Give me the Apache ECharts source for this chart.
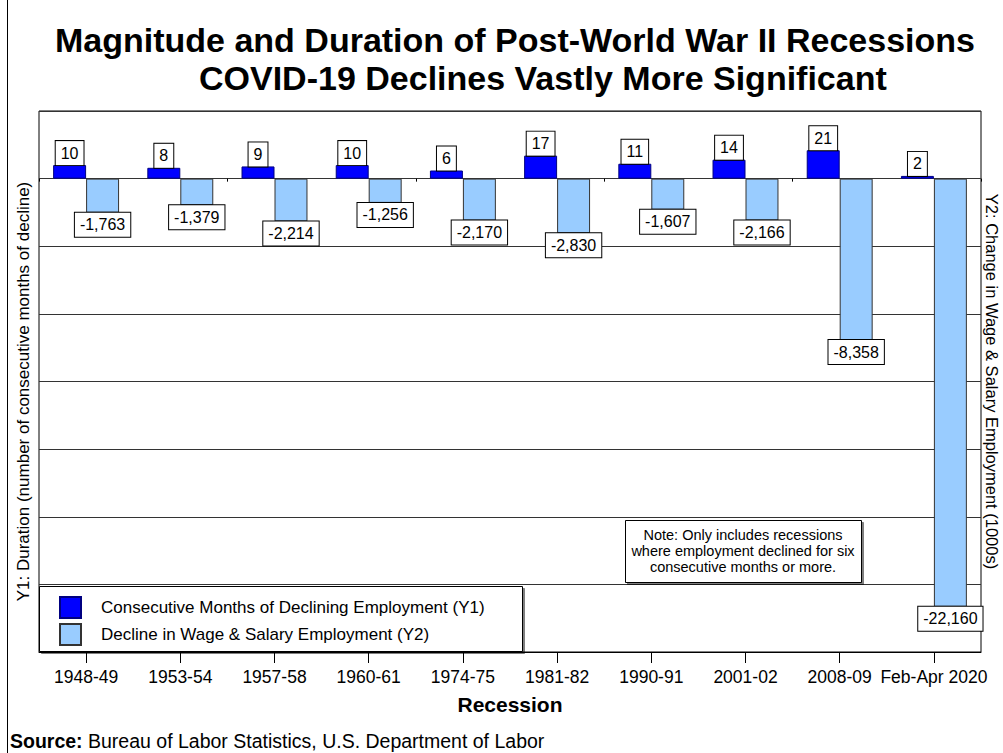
<!DOCTYPE html>
<html>
<head>
<meta charset="utf-8">
<script src="https://cdn.jsdelivr.net/npm/echarts@6/dist/echarts.min.js"></script>
<style>
html,body{margin:0;padding:0;background:#fff;}
#chart{width:1003px;height:753px;}
</style>
</head>
<body>
<div id="chart"></div>
<script>
const categories = ['1948-49','1953-54','1957-58','1960-61','1974-75','1981-82','1990-91','2001-02','2008-09','Feb-Apr 2020'];
const monthsDeclining = [10, 8, 9, 10, 6, 17, 11, 14, 21, 2];
const employmentDecline = [-1763, -1379, -2214, -1256, -2170, -2830, -1607, -2166, -8358, -22160];
const seriesNames = ['Consecutive Months of Declining Employment (Y1)', 'Decline in Wage & Salary Employment (Y2)'];
const titleLines = ['Magnitude and Duration of Post-World War II Recessions', 'COVID-19 Declines Vastly More Significant'];
const noteLines = ['Note: Only includes recessions', 'where employment declined for six', 'consecutive months or more.'];

const FONT = '"Liberation Sans", Arial, sans-serif';
const chart = echarts.init(document.getElementById('chart'), null, {renderer: 'svg'});

const labelBox = {
  show: true,
  distance: 0,
  color: '#000',
  fontFamily: FONT,
  fontSize: 16,
  lineHeight: 18,
  backgroundColor: '#fff',
  borderColor: '#000',
  borderWidth: 1,
  padding: [3, 5, 3, 5],
  formatter: p => Number(p.value).toLocaleString('en-US')
};

const option = {
  animation: false,
  backgroundColor: '#fff',
  textStyle: {fontFamily: FONT, color: '#000'},
  title: [
    {text: titleLines[0], left: 55, top: 23, padding: 0,
     textStyle: {fontFamily: FONT, fontSize: 34, fontWeight: 'bold', color: '#000'}},
    {text: titleLines[1], left: 199, top: 61, padding: 0,
     textStyle: {fontFamily: FONT, fontSize: 34, fontWeight: 'bold', color: '#000'}}
  ],
  grid: {left: 39, right: 22, top: 111, bottom: 101, show: true, borderColor: '#000', borderWidth: 1,
         containLabel: false, outerBoundsMode: 'none'},
  legend: {
    orient: 'vertical', left: 59, top: 596, padding: 0, itemWidth: 21, itemHeight: 21, itemGap: 4,
    icon: 'rect', z: 20,
    textStyle: {fontFamily: FONT, fontSize: 17, color: '#000', padding: [0, 0, 0, 15]},
    data: seriesNames
  },
  xAxis: [
    {
      type: 'category', data: categories, position: 'bottom',
      axisLine: {show: true, onZero: false, lineStyle: {color: '#000', width: 1}},
      axisTick: {show: true, alignWithLabel: true, length: 11, lineStyle: {color: '#000'}},
      axisLabel: {fontFamily: FONT, fontSize: 17.5, color: '#000', margin: 16, interval: 0},
      name: 'Recession', nameLocation: 'middle', nameGap: 42,
      nameTextStyle: {fontFamily: FONT, fontSize: 21, fontWeight: 'bold', color: '#000'},
      splitLine: {show: false}
    },
    {
      type: 'category', data: categories, position: 'bottom',
      axisLine: {show: false},
      axisTick: {show: true, alignWithLabel: false, length: 3, lineStyle: {color: '#000'}},
      axisLabel: {show: false},
      splitLine: {show: false}
    }
  ],
  yAxis: [
    {
      type: 'value', position: 'left', min: -350, max: 50, interval: 50,
      axisLine: {show: false}, axisTick: {show: false}, axisLabel: {show: false},
      splitLine: {show: true, lineStyle: {color: '#333', width: 1}},
      name: 'Y1: Duration (number of consecutive months of decline)',
      nameLocation: 'middle', nameRotate: 90, nameGap: 7,
      nameTextStyle: {fontFamily: FONT, fontSize: 17, color: '#000', padding: [0, 20, 0, 0]}
    },
    {
      type: 'value', position: 'right', min: -24500, max: 3500, interval: 3500,
      axisLine: {show: false}, axisTick: {show: false}, axisLabel: {show: false},
      splitLine: {show: false},
      name: 'Y2: Change in Wage & Salary Employment (1000s)',
      nameLocation: 'middle', nameRotate: -90, nameGap: 2,
      nameTextStyle: {fontFamily: FONT, fontSize: 16.5, color: '#000'}
    }
  ],
  series: [
    {
      name: seriesNames[0], type: 'bar', xAxisIndex: 0, yAxisIndex: 0,
      data: monthsDeclining, barWidth: '35%', barGap: '0%',
      itemStyle: {color: '#0000FF', borderColor: '#000080', borderWidth: 1},
      label: Object.assign({}, labelBox, {position: 'top'})
    },
    {
      name: seriesNames[1], type: 'bar', xAxisIndex: 0, yAxisIndex: 1,
      data: employmentDecline, barWidth: '35%', barGap: '0%',
      itemStyle: {color: '#99CCFF', borderColor: '#333', borderWidth: 1},
      label: Object.assign({}, labelBox, {position: 'bottom'})
    }
  ],
  graphic: [
    {type: 'line', z: 30, shape: {x1: 7.5, y1: 0, x2: 7.5, y2: 753}, style: {stroke: '#000', lineWidth: 1}},
    {type: 'rect', z: 10, shape: {x: 39.5, y: 586.5, width: 483, height: 65},
     style: {fill: '#fff', stroke: '#000', lineWidth: 1, shadowColor: 'rgba(0,0,0,0.5)', shadowOffsetX: 2, shadowOffsetY: 2, shadowBlur: 0}},
    {type: 'rect', z: 10, shape: {x: 625.5, y: 520.5, width: 236, height: 62},
     style: {fill: '#fff', stroke: '#000', lineWidth: 1, shadowColor: 'rgba(0,0,0,0.5)', shadowOffsetX: 2, shadowOffsetY: 2, shadowBlur: 0}},
    {type: 'text', z: 11, x: 743, y: 551,
     style: {text: noteLines.join('\n'), fontFamily: FONT, fontSize: 14.5, lineHeight: 16, fill: '#000', align: 'center', verticalAlign: 'middle'}},
    {type: 'text', z: 11, x: 10, y: 741,
     style: {text: '{b|Source:} Bureau of Labor Statistics, U.S. Department of Labor', fontFamily: FONT, fontSize: 19.5, fill: '#000', align: 'left', verticalAlign: 'middle',
       rich: {b: {fontWeight: 'bold', fontFamily: FONT, fontSize: 19.5, fill: '#000'}}}}
  ]
};
chart.setOption(option);
</script>
</body>
</html>
